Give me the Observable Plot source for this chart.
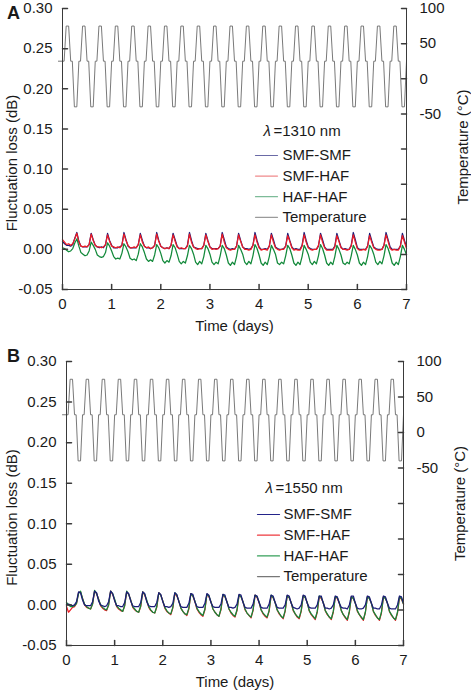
<!DOCTYPE html>
<html><head><meta charset="utf-8">
<script src="https://cdn.jsdelivr.net/npm/d3@7"></script>
<script src="https://cdn.jsdelivr.net/npm/@observablehq/plot@0.6"></script>
<style>
html,body{margin:0;padding:0;background:#fff}
#chart{width:471px}
#chart svg{display:block}
</style>
</head><body><div id="chart"></div>
<script>
// ---------- axis / tick definitions ----------
const lossTicks = [0.30, 0.25, 0.20, 0.15, 0.10, 0.05, 0.00, -0.05];
const lossDomain = [-0.05, 0.30];
const dayTicks = [0, 1, 2, 3, 4, 5, 6, 7];
const tempAxisDomain = [-300, 100];           // right axis, aligned with lossDomain
const tempLabelTicks = [100, 50, 0, -50];
const tempTickMarks = [100, 50, 0, -50, -100, -150, -200, -250, -300];

// ---------- temperature program (hours, °C) ----------
const tempCycleHours = [0, 0.8, 1.8, 3.0, 4.0, 4.8, 5.8, 7.0];
const tempCycleValues = [25, 25, 75, 75, 25, 25, -40, -40];
const tempCycleLength = 8;   // hours per cycle
const tempCycleCount = 21;
const tempLead = [-2, 25];   // [hour, °C] short lead-in before t = 0
const tempEnd = [168, 25];

// ---------- loss series, hourly samples (0 … 168 h), in 0.001 dB ----------
const A_smfSmf = [
 10,7,5,5,4,6,14,21,   10,4,3,3,3,6,20,12,   5,3,2,3,2,6,20,11,
 5,2,2,2,3,5,21,12,    4,2,2,2,2,6,20,11,    4,2,2,1,2,5,21,11,
 4,2,1,2,1,5,20,12,    4,1,1,1,1,5,21,11,    3,2,1,1,1,5,20,11,
 3,1,1,1,1,4,21,12,    3,1,0,1,0,4,20,11,    3,1,1,0,1,5,21,11,
 3,0,0,1,0,4,20,12,    3,1,0,0,1,4,20,11,    3,0,1,0,0,5,21,11,
 3,1,0,0,0,4,20,12,    3,0,0,0,0,4,20,11,    3,0,1,0,0,5,21,12,
 2,0,0,0,0,4,20,11,    3,1,0,0,0,5,21,12,    3,0,0,0,0,4,20,11,
 3];
const A_smfHaf = [
 12,9,6,7,5,7,13,20,   9,4,3,4,3,6,19,11,    5,3,3,2,3,6,18,10,
 4,3,2,3,2,5,19,11,    5,2,2,3,2,6,18,9,     4,2,3,1,2,5,19,10,
 4,2,1,2,1,5,18,10,    3,1,2,1,1,4,19,9,     3,1,0,1,1,5,18,10,
 3,0,1,0,1,4,19,9,     2,0,-1,0,0,4,18,10,   3,0,0,-1,0,5,18,9,
 2,-1,0,0,-1,4,18,9,   2,0,-1,0,0,4,17,10,   2,-1,0,-1,-1,4,18,9,
 2,0,-1,0,0,5,18,9,    2,-1,-1,-1,-1,3,17,10, 2,0,0,-1,0,4,18,9,
 1,-1,-1,0,-1,4,17,9,  2,0,-1,-1,0,5,18,10,  1,-1,0,-1,-1,4,17,9,
 1];
const A_hafHaf = [
 2,1,-1,-3,-2,1,8,13,        4,-4,-6,-8,-7,-2,9,5,       0,-7,-9,-10,-9,-4,8,4,
 -2,-9,-12,-11,-12,-5,7,3,   -3,-11,-13,-12,-14,-6,7,3,  -4,-12,-15,-13,-15,-7,6,2,
 -5,-14,-17,-14,-16,-8,6,2,  -6,-15,-18,-15,-17,-8,5,1,  -6,-16,-19,-15,-18,-9,5,1,
 -6,-16,-19,-16,-18,-8,5,1,  -7,-17,-20,-16,-19,-9,5,0,  -6,-16,-19,-15,-18,-8,6,1,
 -7,-17,-20,-16,-19,-9,5,0,  -6,-17,-19,-16,-18,-8,5,1,  -7,-17,-20,-16,-19,-9,5,0,
 -6,-16,-19,-15,-18,-8,6,1,  -7,-17,-20,-16,-19,-9,5,0,  -7,-17,-19,-16,-18,-8,5,0,
 -7,-17,-20,-16,-19,-9,5,1,  -6,-16,-19,-15,-18,-8,6,1,  -7,-17,-20,-16,-19,-9,5,0,
 -7];
const B_smfSmf = [
 0,1,0,-1,0,4,16,15,     6,0,-1,-1,-1,4,17,15,   5,0,-1,-2,-1,4,17,14,
 5,-1,-1,-2,-2,3,16,14,  5,-1,-2,-2,-2,3,16,14,  4,-1,-2,-2,-2,3,15,13,
 4,-2,-2,-3,-2,2,15,13,  4,-2,-3,-3,-3,2,14,13,  4,-2,-3,-3,-3,2,14,12,
 3,-2,-3,-3,-3,1,13,12,  3,-3,-3,-4,-3,1,13,12,  3,-3,-4,-4,-4,1,12,11,
 3,-3,-4,-4,-4,1,12,11,  3,-3,-4,-4,-4,0,12,11,  2,-3,-4,-5,-4,0,12,11,
 2,-3,-4,-4,-4,0,11,11,  2,-4,-4,-5,-4,0,11,10,  2,-3,-4,-4,-5,0,11,11,
 2,-4,-5,-5,-4,0,11,10,  2,-4,-4,-5,-5,0,11,10,  2,-4,-5,-5,-5,0,11,10,
 2];
const B_smfHaf = [
 -2,-9,-6,-3,-2,2,15,16,     8,0,-3,-4,-5,1,17,14,       7,-1,-4,-6,-7,0,17,13,
 6,-2,-5,-7,-8,-1,16,13,     6,-3,-6,-8,-9,-2,16,12,     5,-3,-7,-9,-10,-3,15,12,
 5,-4,-8,-10,-12,-4,14,11,   5,-4,-8,-11,-13,-5,14,11,   4,-5,-9,-12,-14,-6,13,10,
 4,-5,-9,-12,-14,-6,12,10,   4,-5,-10,-13,-15,-7,12,10,  4,-6,-10,-13,-16,-7,12,9,
 3,-6,-11,-14,-16,-8,11,9,   3,-6,-11,-14,-17,-8,11,9,   3,-7,-11,-15,-17,-8,11,9,
 3,-7,-12,-15,-18,-9,10,8,   3,-7,-12,-15,-18,-9,10,8,   2,-7,-12,-16,-19,-9,10,8,
 2,-8,-12,-16,-19,-9,10,8,   2,-8,-13,-16,-19,-10,10,8,  2,-8,-13,-16,-19,-10,9,7,
 1];
const B_hafHaf = [
 3,0,-2,-2,-1,2,14,17,       8,1,-2,-4,-5,1,18,14,       7,0,-3,-5,-6,0,17,14,
 7,-1,-4,-6,-8,-1,17,13,     6,-2,-5,-8,-9,-1,16,13,     6,-2,-6,-9,-10,-2,15,12,
 5,-3,-7,-10,-11,-3,15,12,   5,-4,-8,-11,-12,-4,14,11,   5,-4,-8,-11,-13,-5,13,11,
 4,-5,-9,-12,-14,-5,13,10,   4,-5,-9,-12,-14,-6,12,10,   4,-5,-10,-13,-15,-6,12,10,
 4,-6,-10,-13,-15,-7,12,9,   3,-6,-10,-14,-16,-7,11,9,   3,-6,-11,-14,-16,-7,11,9,
 3,-7,-11,-14,-17,-8,11,9,   3,-7,-11,-15,-17,-8,10,9,   3,-7,-12,-15,-18,-8,10,8,
 2,-7,-12,-15,-18,-9,10,8,   2,-8,-12,-16,-18,-9,10,8,   2,-8,-12,-16,-18,-9,10,8,
 1];

const seriesNames = ["SMF-SMF", "SMF-HAF", "HAF-HAF", "Temperature"];
const seriesColors = {"SMF-SMF": "#1c1c78", "SMF-HAF": "#ee1c25", "HAF-HAF": "#12893a", "Temperature": "#6a6a6a"};
const legendColorsA = {"SMF-SMF": "#6a6aa6", "SMF-HAF": "#f08a8c", "HAF-HAF": "#7dbb98", "Temperature": "#9a9a9a"};
const legendColorsB = {"SMF-SMF": "#23238a", "SMF-HAF": "#ee3a3f", "HAF-HAF": "#36a05a", "Temperature": "#777777"};

// ---------- helpers ----------
const FONT = "'Liberation Sans', Arial, Helvetica, sans-serif";
const toLoss = t => lossDomain[1] - (tempAxisDomain[1] - t) * (lossDomain[1] - lossDomain[0]) / (tempAxisDomain[1] - tempAxisDomain[0]);
const hline = {draw(ctx, l) { ctx.moveTo(0, 0); ctx.lineTo(0, -l); }};

const tempRows = [{day: tempLead[0] / 24, v: toLoss(tempLead[1])}];
for (let c = 0; c < tempCycleCount; c++) {
  tempCycleHours.forEach((h, k) => tempRows.push({day: (c * tempCycleLength + h) / 24, v: toLoss(tempCycleValues[k])}));
}
tempRows.push({day: tempEnd[0] / 24, v: toLoss(tempEnd[1])});

const toRows = (arr, name) => arr.map((m, i) => ({day: i / 24, v: m / 1000, name}));

function panel(cfg) {
  const lines = cfg.order.map(name => Plot.line(toRows(cfg.data[name], name), {
    x: "day", y: "v", stroke: seriesColors[name], strokeWidth: 1.25
  }));
  const legend = [];
  legend.push(Plot.text(["λ"], {frameAnchor: "top-left", dx: cfg.lx, dy: cfg.ly, text: d => d, textAnchor: "start", lineAnchor: "middle", fontStyle: "italic"}));
  legend.push(Plot.text([cfg.lambda], {frameAnchor: "top-left", dx: cfg.lx + 10, dy: cfg.ly, text: d => d, textAnchor: "start", lineAnchor: "middle"}));
  seriesNames.forEach((name, i) => {
    legend.push(Plot.vector([name], {frameAnchor: "top-left", dx: cfg.lineX, dy: cfg.rowY + i * cfg.rowStep,
      length: 22, rotate: 90, anchor: "start", shape: hline, stroke: cfg.legendColors[name], strokeWidth: 1.2}));
    legend.push(Plot.text([name], {frameAnchor: "top-left", dx: cfg.textX, dy: cfg.rowY + i * cfg.rowStep, text: d => d, textAnchor: "start", lineAnchor: "middle"}));
  });
  return Plot.plot({
    width: 471, height: 345,
    marginLeft: cfg.ml, marginRight: cfg.mr, marginTop: cfg.mt, marginBottom: cfg.mb,
    x: {domain: [0, 7], axis: null},
    y: {domain: lossDomain, axis: null},
    style: {fontFamily: FONT, fontSize: "15px", color: "#1a1a1a", background: "#fff", overflow: "visible"},
    marks: [
      Plot.line(tempRows, {x: "day", y: "v", stroke: seriesColors["Temperature"], strokeWidth: 0.9}),
      ...lines,
      Plot.ruleX([0, 7], {stroke: "#3a3a3a", strokeWidth: 1}),
      Plot.ruleY([lossDomain[0]], {stroke: "#3a3a3a", strokeWidth: 1}),
      Plot.vector(lossTicks, {x: 0, y: d => d, length: 5, rotate: 90, anchor: "start", shape: hline, stroke: "#3a3a3a"}),
      Plot.vector(tempTickMarks, {x: 7, y: d => toLoss(d), length: 5, rotate: -90, anchor: "start", shape: hline, stroke: "#3a3a3a"}),
      Plot.vector(dayTicks, {x: d => d, y: lossDomain[0], length: 5, rotate: 0, anchor: "start", shape: hline, stroke: "#3a3a3a"}),
      Plot.text(lossTicks, {x: 0, y: d => d, text: d => d.toFixed(2), textAnchor: "end", dx: -10}),
      Plot.text(tempLabelTicks, {x: 7, y: d => toLoss(d), text: d => String(d), textAnchor: "start", dx: 13}),
      Plot.text(dayTicks, {x: d => d, y: lossDomain[0], text: d => String(d), lineAnchor: "top", dy: 9}),
      Plot.text(["Time (days)"], {frameAnchor: "bottom", dy: 37, text: d => d, textAnchor: "middle", lineAnchor: "middle"}),
      Plot.text(["Fluctuation loss (dB)"], {frameAnchor: "left", dx: cfg.leftTitleDx, dy: cfg.leftTitleDy, rotate: -90, text: d => d, textAnchor: "middle", lineAnchor: "middle"}),
      Plot.text(["Temperature (°C)"], {frameAnchor: "right", dx: 57, dy: cfg.rightTitleDy, rotate: -90, text: d => d, textAnchor: "middle", lineAnchor: "middle"}),
      Plot.text([cfg.letter], {frameAnchor: "top-left", dx: cfg.letterDx, dy: cfg.letterDy, text: d => d, textAnchor: "middle", lineAnchor: "middle", fontWeight: "bold", fontSize: 18}),
      ...legend
    ]
  });
}

const panelA = panel({
  letter: "A", lambda: "=1310 nm",
  ml: 62, mr: 65, mt: 8, mb: 56,
  data: {"SMF-SMF": A_smfSmf, "SMF-HAF": A_smfHaf, "HAF-HAF": A_hafHaf},
  order: ["SMF-SMF", "SMF-HAF", "HAF-HAF"],
  legendColors: legendColorsA,
  lx: 201, ly: 123, lineX: 193, textX: 220, rowY: 147, rowStep: 20.6,
  leftTitleDx: -50, leftTitleDy: 14, rightTitleDy: -2,
  letterDx: -49, letterDy: 5
});
const panelB = panel({
  letter: "B", lambda: "=1550 nm",
  ml: 66, mr: 68, mt: 16, mb: 45,
  data: {"SMF-SMF": B_smfSmf, "SMF-HAF": B_smfHaf, "HAF-HAF": B_hafHaf},
  order: ["SMF-HAF", "HAF-HAF", "SMF-SMF"],
  legendColors: legendColorsB,
  lx: 199, ly: 127, lineX: 191, textX: 217, rowY: 153, rowStep: 20.7,
  leftTitleDx: -54, leftTitleDy: 14, rightTitleDy: 0,
  letterDx: -53, letterDy: -5
});
document.getElementById("chart").append(panelA, panelB);
</script>
</body></html>
